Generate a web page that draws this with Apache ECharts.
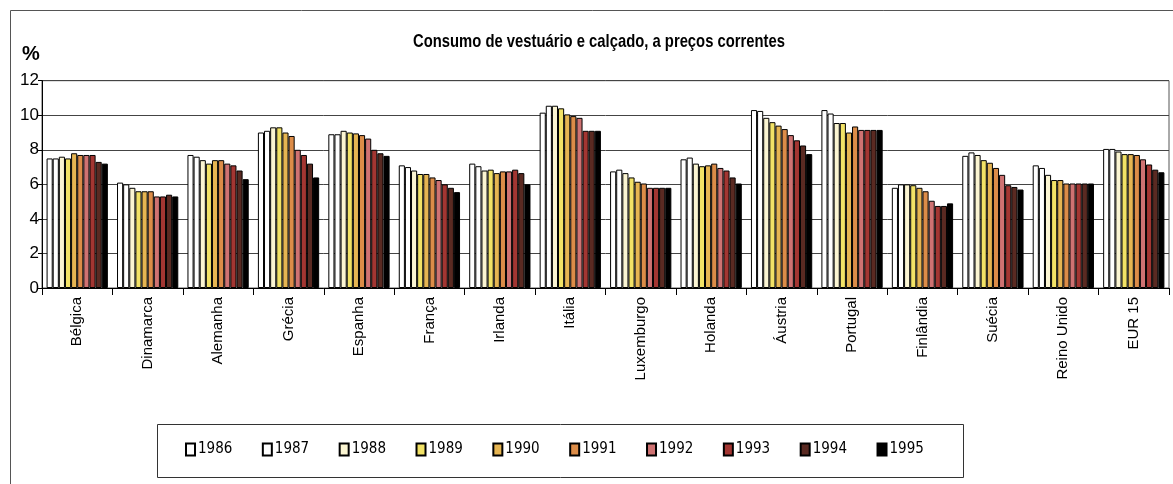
<!DOCTYPE html>
<html>
<head>
<meta charset="utf-8">
<script src="https://cdn.jsdelivr.net/npm/echarts@6/dist/echarts.min.js"></script>
<style>
html,body{margin:0;padding:0;background:#fff;}
#chart{width:1173px;height:484px;}
</style>
</head>
<body>
<div id="chart"></div>
<script>
const titleText = 'Consumo de vestuário e calçado, a preços correntes';
const yUnit = '%';
const categories = ['Bélgica','Dinamarca','Alemanha','Grécia','Espanha','França','Irlanda','Itália','Luxemburgo','Holanda','Áustria','Portugal','Finlândia','Suécia','Reino Unido','EUR 15'];
const years = ['1986','1987','1988','1989','1990','1991','1992','1993','1994','1995'];
const yTicks = [0, 2, 4, 6, 8, 10, 12];

// values per country, 1986..1995
const belgica     = [7.5, 7.5, 7.6, 7.5, 7.8, 7.7, 7.7, 7.7, 7.3, 7.2];
const dinamarca   = [6.1, 6.0, 5.8, 5.6, 5.6, 5.6, 5.3, 5.3, 5.4, 5.3];
const alemanha    = [7.7, 7.6, 7.4, 7.2, 7.4, 7.4, 7.2, 7.1, 6.8, 6.3];
const grecia      = [9.0, 9.1, 9.3, 9.3, 9.0, 8.8, 8.0, 7.7, 7.2, 6.4];
const espanha     = [8.9, 8.9, 9.1, 9.0, 8.95, 8.85, 8.65, 8.0, 7.8, 7.65];
const franca      = [7.1, 7.0, 6.8, 6.6, 6.6, 6.4, 6.25, 6.0, 5.8, 5.55];
const irlanda     = [7.2, 7.05, 6.8, 6.85, 6.65, 6.75, 6.75, 6.85, 6.65, 6.0];
const italia      = [10.15, 10.55, 10.55, 10.4, 10.05, 9.95, 9.85, 9.1, 9.1, 9.1];
const luxemburgo  = [6.75, 6.85, 6.65, 6.4, 6.15, 6.05, 5.8, 5.8, 5.8, 5.8];
const holanda     = [7.45, 7.55, 7.2, 7.05, 7.1, 7.2, 6.95, 6.8, 6.4, 6.05];
const austria     = [10.3, 10.25, 9.85, 9.6, 9.4, 9.2, 8.85, 8.55, 8.25, 7.75];
const portugal    = [10.3, 10.1, 9.55, 9.55, 9.0, 9.35, 9.15, 9.15, 9.15, 9.15];
const finlandia   = [5.8, 6.0, 6.0, 5.95, 5.8, 5.6, 5.05, 4.75, 4.75, 4.9];
const suecia      = [7.65, 7.85, 7.7, 7.4, 7.25, 6.95, 6.55, 5.95, 5.85, 5.7];
const reinoUnido  = [7.1, 6.95, 6.55, 6.25, 6.25, 6.05, 6.05, 6.05, 6.05, 6.05];
const eur15       = [8.05, 8.05, 7.9, 7.75, 7.75, 7.7, 7.45, 7.15, 6.85, 6.7];

const byCountry = [belgica, dinamarca, alemanha, grecia, espanha, franca, irlanda, italia, luxemburgo, holanda, austria, portugal, finlandia, suecia, reinoUnido, eur15];

const colors = ['#ffffff','#ffffff','#fbf5d2','#f2e266','#e6b552','#dc8c48','#cf7272','#a33632','#5a2a22','#000000'];

const narrow = '"DejaVu Sans Condensed","Liberation Sans",Arial,sans-serif';
const sans = '"Liberation Sans",Arial,sans-serif';

// measure title width so it can be compressed horizontally like the original
const titleFont = 'bold 19px "Liberation Sans"';
const mctx = document.createElement('canvas').getContext('2d');
mctx.font = titleFont;
const titleW = mctx.measureText(titleText).width;
const titleScale = 372 / titleW;

const series = years.map((y, i) => ({
  name: y,
  type: 'bar',
  data: byCountry.map(c => c[i]),
  barGap: '0%',
  barCategoryGap: '13%',
  itemStyle: { color: colors[i], borderColor: '#000', borderWidth: 1 },
  emphasis: { disabled: true }
}));

const chart = echarts.init(document.getElementById('chart'), null, { renderer: 'canvas' });
chart.setOption({
  animation: false,
  backgroundColor: '#fff',
  color: colors,
  graphic: [
    { type: 'rect', shape: { x: 10.5, y: 10.5, width: 1200, height: 600 }, style: { fill: 'none', stroke: '#555', lineWidth: 1 }, z: -1 },
    { type: 'text', x: 413, y: 32, scaleX: titleScale, scaleY: 1,
      style: { text: titleText, font: titleFont, fill: '#000', textVerticalAlign: 'top' } },
    { type: 'text', left: 22, top: 44, style: { text: yUnit, fontFamily: sans, fontSize: 20, fontWeight: 'bold', fill: '#000' } },
    { type: 'rect', shape: { x: 157.5, y: 424.5, width: 806, height: 53 }, style: { fill: 'none', stroke: '#333', lineWidth: 1 } }
  ],
  legend: {
    data: years,
    left: 180, top: 437,
    itemWidth: 9, itemHeight: 12, itemGap: 29.5,
    icon: 'rect',
    textStyle: { fontFamily: narrow, fontSize: 15, color: '#000', padding: [0, 0, 0, -2] },
    selectedMode: false
  },
  grid: {
    left: 42, right: 4, top: 80.7, bottom: 196,
    show: true, borderColor: '#555', borderWidth: 1
  },
  xAxis: {
    type: 'category',
    data: categories,
    axisLine: { lineStyle: { color: '#000', width: 1 } },
    axisTick: { show: true, length: 7, lineStyle: { color: '#000' } },
    axisLabel: { rotate: 90, fontFamily: sans, fontSize: 15, color: '#000', margin: 9 }
  },
  yAxis: {
    type: 'value',
    min: yTicks[0], max: yTicks[yTicks.length - 1], interval: 2,
    axisLine: { show: true, lineStyle: { color: '#000', width: 1 } },
    axisTick: { show: true, length: 4, lineStyle: { color: '#000' } },
    axisLabel: { fontFamily: sans, fontSize: 17, color: '#000', margin: 3 },
    splitLine: { show: true, lineStyle: { color: '#444', width: 1 } }
  },
  series: series
});
</script>
</body>
</html>
